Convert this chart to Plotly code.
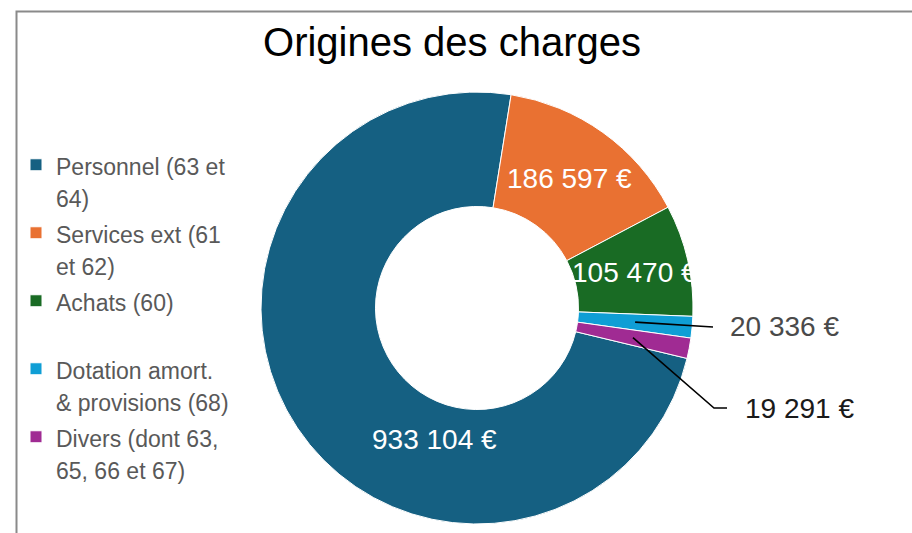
import math
import plotly.graph_objects as go

# ---------------- data ----------------
categories = [
    "Personnel (63 et<br>64)",
    "Services ext (61<br>et 62)",
    "Achats (60)<br> ",
    "Dotation amort.<br>& provisions (68)",
    "Divers (dont 63,<br>65, 66 et 67)",
]
values = [933104, 186597, 105470, 20336, 19291]
colors = ["#156082", "#E97132", "#196B24", "#0F9ED5", "#A02B93"]
title_text = "Origines des charges"


def fmt_eur(v):
    return f"{v:,}".replace(",", " ") + " €"


value_labels = [fmt_eur(v) for v in values]

# ---------------- layout geometry (pixels) ----------------
W, H = 912, 533
CX, CY, R = 477, 308, 216
HOLE = 0.47
ROTATION = 103.5
FONT = "Liberation Sans, Arial, sans-serif"


def to_paper(x, y):
    return x / W, 1 - y / H


def polar(angle_deg, r):
    a = math.radians(angle_deg)
    return CX + r * math.sin(a), CY - r * math.cos(a)


total = sum(values)
mids = []
acc = ROTATION
for v in values:
    span = v / total * 360
    mids.append(acc + span / 2)
    acc += span

legend_names = [f"<span style='font-size:23px'>{c}</span>" for c in categories]

fig = go.Figure()
fig.add_trace(go.Pie(
    labels=legend_names,
    values=values,
    sort=False,
    direction="clockwise",
    rotation=ROTATION,
    hole=HOLE,
    textinfo="none",
    marker=dict(colors=colors, line=dict(color="white", width=1)),
    domain=dict(x=[(CX - R) / W, (CX + R) / W],
                y=[1 - (CY + R) / H, 1 - (CY - R) / H]),
    hoverinfo="value",
))

annotations = []
shapes = []

# inside labels (Personnel, Services, Achats)
inside_place = {0: (198.0, 0.64), 1: (None, 0.735), 2: (None, 0.75)}
for i, (ang, rf) in inside_place.items():
    a = mids[i] if ang is None else ang
    x, y = polar(a, rf * R)
    px, py = to_paper(x, y)
    annotations.append(dict(x=px, y=py, xref="paper", yref="paper",
                            text=value_labels[i], showarrow=False,
                            xanchor="center", yanchor="middle",
                            font=dict(family=FONT, size=28, color="white")))

# outside labels with leader lines (Dotation, Divers)
ring_mid = (HOLE + 1) / 2 * R
# Dotation
sx, sy = polar(mids[3], ring_mid)
ex, ey = 713, 327
x0, y0 = to_paper(sx, sy)
x1, y1 = to_paper(ex, ey)
shapes.append(dict(type="line", xref="paper", yref="paper", x0=x0, y0=y0, x1=x1, y1=y1,
                   line=dict(color="black", width=1.6)))
tx, ty = to_paper(728, 326)
annotations.append(dict(x=tx, y=ty, xref="paper", yref="paper", text=value_labels[3],
                        showarrow=False, xanchor="left", yanchor="middle",
                        font=dict(family=FONT, size=28, color="#4a4a4a")))
# Divers
sx, sy = polar(mids[4], ring_mid)
kx, ky = 714, 408
ex, ey = 727, 408
x0, y0 = to_paper(sx, sy)
xk, yk = to_paper(kx, ky)
x1, y1 = to_paper(ex, ey)
shapes.append(dict(type="path", xref="paper", yref="paper",
                   path=f"M {x0} {y0} L {xk} {yk} L {x1} {y1}",
                   line=dict(color="black", width=1.6)))
tx, ty = to_paper(743, 408)
annotations.append(dict(x=tx, y=ty, xref="paper", yref="paper", text=value_labels[4],
                        showarrow=False, xanchor="left", yanchor="middle",
                        font=dict(family=FONT, size=28, color="#1a1a1a")))

# chart frame (top and left edges visible)
bx0, by1 = to_paper(16.5, 11.5)
shapes.append(dict(type="rect", xref="paper", yref="paper",
                   x0=bx0, y0=-0.05, x1=1.05, y1=by1,
                   line=dict(color="#8a8a8a", width=2), fillcolor="rgba(0,0,0,0)"))

fig.update_layout(
    width=W, height=H,
    margin=dict(l=0, r=0, t=0, b=0),
    paper_bgcolor="white",
    plot_bgcolor="white",
    title=dict(text=title_text, x=452 / W, xanchor="center", y=1 - 42 / H,
               yanchor="middle", yref="container",
               font=dict(family=FONT, size=40, color="black")),
    legend=dict(x=16 / W, y=1 - 142 / H, xanchor="left", yanchor="top",
                valign="top", font=dict(family=FONT, size=25, color="#595959"),
                bgcolor="rgba(0,0,0,0)"),
    annotations=annotations,
    shapes=shapes,
)

fig.write_html("out.html",
               config={"displayModeBar": False},
               post_script="document.body.style.margin='0';document.body.style.padding='0';")
